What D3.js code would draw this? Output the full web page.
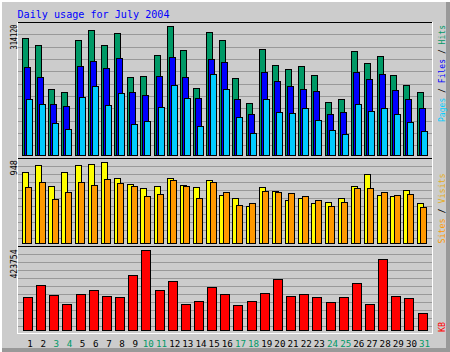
<!DOCTYPE html>
<html>
<head>
<meta charset="utf-8">
<script src="https://cdn.jsdelivr.net/npm/d3@7/dist/d3.min.js"></script>
<style>
  html, body { margin: 0; padding: 0; background: #fff; }
  svg { display: block; }
  text { font-family: "DejaVu Sans Mono", "Liberation Mono", monospace; }
</style>
</head>
<body>
<div id="chart"></div>
<script>
// Daily usage for July 2004 (webalizer style 3-panel bar graph)
const days = d3.range(1, 32);
const weekendDays = [3, 4, 10, 11, 17, 18, 24, 25, 31];

const hits = [283070, 266090, 159360, 152090, 278220, 302470, 266090, 295200, 188470, 190900,
  242560, 314120, 253960, 161790, 297620, 278220, 186040, 125400, 256390, 217580,
  207870, 215150, 193320, 127830, 135830, 251540, 222430, 239410, 193320, 169060, 152090];
const files = [212720, 188470, 122980, 118850, 215150, 227280, 210300, 234560, 152810, 144810,
  190900, 236980, 188470, 137530, 232130, 226310, 135830, 98720, 201330, 179490,
  166640, 159360, 154510, 99450, 103570, 201330, 183620, 195750, 156940, 135830, 113270];
const pages = [135110, 122980, 76890, 62340, 139960, 166640, 120550, 149660, 74470, 82470,
  115700, 169060, 137530, 69610, 195750, 159360, 91440, 53360, 135830, 103570,
  101150, 113270, 84900, 60640, 50940, 122980, 106000, 113270, 98720, 80040, 58210];
const visits = [831, 913, 667, 831, 913, 925, 948, 761, 691, 644,
  667, 761, 679, 655, 737, 562, 527, 433, 655, 609,
  503, 527, 468, 483, 527, 667, 808, 562, 550, 620, 468];
const sites = [655, 714, 515, 597, 714, 679, 749, 702, 667, 550,
  573, 741, 667, 527, 714, 597, 445, 468, 609, 597,
  585, 550, 503, 433, 483, 644, 644, 597, 562, 581, 421];
const kbytes = [176400, 240000, 187000, 137700, 192300, 213500, 181700, 176400, 292900, 423754,
  213500, 261100, 140900, 153600, 229400, 190700, 132400, 153600, 197600, 271700,
  180100, 190700, 176400, 148300, 176400, 250500, 139300, 376100, 180100, 169500, 90050];

const W = 450, H = 352;
const BG = '#cccccc', GRID = '#999999', DKGREY = '#999999';
const C = {
  hits: '#009966', files: '#0000ff', pages: '#00ccff',
  visits: '#ffff00', sites: '#ff9900', kbytes: '#ff0000',
  visitsText: '#e6ad1a'
};
const BOX = { left: 17, right: 432, top: 22, bottom: 333 };

const svg = d3.select('#chart').append('svg')
  .attr('width', W).attr('height', H)
  .attr('viewBox', `0 0 ${W} ${H}`);

// background + 3d frame
svg.append('rect').attr('width', W).attr('height', H).attr('fill', BG);
svg.append('rect').attr('x', 0).attr('y', 0).attr('width', W).attr('height', 2).attr('fill', '#fff');
svg.append('rect').attr('x', 0).attr('y', 0).attr('width', 2).attr('height', H).attr('fill', '#fff');
svg.append('rect').attr('x', W - 4).attr('y', 2).attr('width', 4).attr('height', H - 2).attr('fill', DKGREY);
svg.append('rect').attr('x', 2).attr('y', H - 4).attr('width', W - 2).attr('height', 4).attr('fill', DKGREY);

svg.append('text')
  .attr('x', 17.5).attr('y', 17.5)
  .attr('fill', '#0000ff')
  .style('font-size', '10.5px')
  .attr('textLength', 152).attr('lengthAdjust', 'spacingAndGlyphs')
  .text('Daily usage for July 2004');

// scales
const x = d3.scaleLinear().domain([1, 31]).range([22, 416.6]);
const yHits = d3.scaleLinear().domain([0, d3.max(hits)]).range([155, 25.5]);
const yVis = d3.scaleLinear().domain([0, d3.max(visits)]).range([243.3, 162.3]);
const yKb = d3.scaleLinear().domain([0, d3.max(kbytes)]).range([330.3, 250.3]);

// grid lines
const grids = [
  d3.range(10).map(i => 34.3 + i * 12.35),
  d3.range(10).map(i => 166 + i * 8),
  d3.range(10).map(i => 254.3 + i * 8)
].flat();
svg.append('g').selectAll('line').data(grids).enter().append('line')
  .attr('x1', BOX.left).attr('x2', BOX.right)
  .attr('y1', d => Math.round(d) + 0.5).attr('y2', d => Math.round(d) + 0.5)
  .attr('stroke', GRID).attr('stroke-width', 1);

// inner box + panel separators
const box = svg.append('g').attr('shape-rendering', 'crispEdges');
box.append('line').attr('x1', BOX.left).attr('x2', BOX.right).attr('y1', BOX.top + 0.5).attr('y2', BOX.top + 0.5).attr('stroke', '#000');
[158, 246].forEach(yy => box.append('line').attr('x1', BOX.left).attr('x2', BOX.right)
  .attr('y1', yy + 0.5).attr('y2', yy + 0.5).attr('stroke', '#000'));
box.append('line').attr('x1', BOX.left + 0.5).attr('x2', BOX.left + 0.5).attr('y1', BOX.top).attr('y2', BOX.bottom + 1).attr('stroke', '#fff');
box.append('line').attr('x1', BOX.right + 0.5).attr('x2', BOX.right + 0.5).attr('y1', BOX.top).attr('y2', BOX.bottom + 1).attr('stroke', '#fff');
box.append('line').attr('x1', BOX.left).attr('x2', BOX.right + 1).attr('y1', BOX.bottom + 0.5).attr('y2', BOX.bottom + 0.5).attr('stroke', '#fff');

function bars(values, y, off, w, color) {
  const base = Math.round(y(0));
  svg.append('g').attr('shape-rendering', 'crispEdges')
    .selectAll('rect').data(values).enter().append('rect')
    .attr('x', (d, i) => Math.round(x(days[i]) + off) + 0.5)
    .attr('y', d => Math.round(y(d)) + 0.5)
    .attr('width', w - 1)
    .attr('height', d => base - Math.round(y(d)))
    .attr('fill', color)
    .attr('stroke', '#000')
    .attr('stroke-width', 1);
}

bars(hits, yHits, 0, 7, C.hits);
bars(files, yHits, 2, 7, C.files);
bars(pages, yHits, 4, 7, C.pages);
bars(visits, yVis, 0, 7, C.visits);
bars(sites, yVis, 3.4, 7.4, C.sites);
bars(kbytes, yKb, 1, 10, C.kbytes);

// day labels
svg.append('g').selectAll('text').data(days).enter().append('text')
  .attr('x', d => x(d) + 8)
  .attr('y', 346.5)
  .attr('text-anchor', 'middle')
  .style('font-size', '9.2px')
  .attr('fill', d => weekendDays.includes(d) ? C.hits : '#000')
  .text(d => d);

// max value labels (rotated, left side)
const maxLabels = [
  { text: d3.max(hits), bottom: 49.5, len: 25 },
  { text: d3.max(visits), bottom: 175.5, len: 15.5 },
  { text: d3.max(kbytes), bottom: 278.5, len: 29 }
];
maxLabels.forEach(m => {
  svg.append('text')
    .attr('transform', `translate(16.5,${m.bottom}) rotate(-90)`)
    .style('font-size', '9px')
    .attr('fill', '#000')
    .attr('textLength', m.len).attr('lengthAdjust', 'spacingAndGlyphs')
    .text(m.text);
});

// series legends (rotated, right side)
const legends = [
  { bottom: 122, len: 97, parts: [['Pages', C.pages], [' / ', '#000'], ['Files', C.files], [' / ', '#000'], ['Hits', C.hits]] },
  { bottom: 243.5, len: 70, parts: [['Sites', C.sites], [' / ', '#000'], ['Visits', C.visitsText]] },
  { bottom: 332, len: 10, parts: [['KB', C.kbytes]] }
];
legends.forEach(l => {
  const t = svg.append('text')
    .attr('transform', `translate(444.5,${l.bottom}) rotate(-90)`)
    .style('font-size', '9.2px')
    .attr('textLength', l.len).attr('lengthAdjust', 'spacingAndGlyphs')
    .attr('xml:space', 'preserve');
  l.parts.forEach(p => t.append('tspan').attr('fill', p[1]).text(p[0]));
});
</script>
</body>
</html>
